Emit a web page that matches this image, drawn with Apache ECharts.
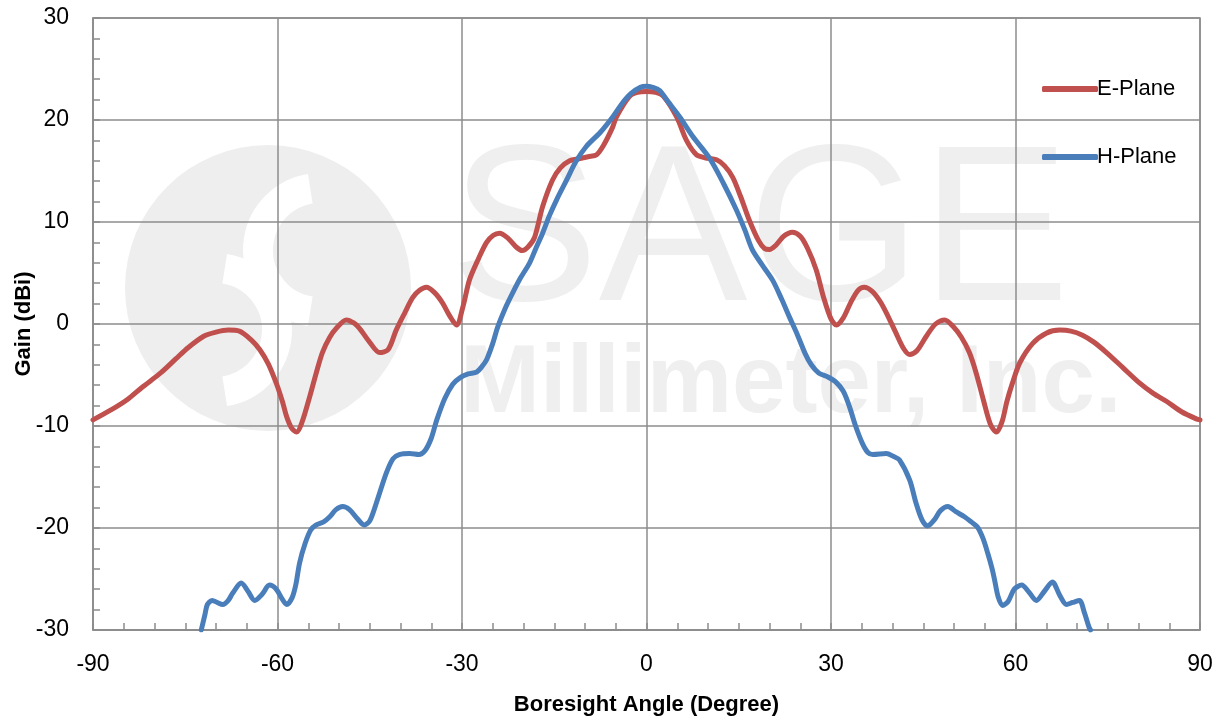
<!DOCTYPE html>
<html>
<head>
<meta charset="utf-8">
<script src="https://cdn.jsdelivr.net/npm/echarts@6/dist/echarts.min.js"></script>
<style>
html,body{margin:0;padding:0;background:#fff;}
#chart{width:1221px;height:721px;}
</style>
</head>
<body>
<div id="chart"></div>
<script>
// E-Plane: [angle (deg), gain (dBi)]
var ePlane = [
[-90,-9.4],[-87,-8.4],[-84.4,-7.4],[-82,-6.2],[-79,-4.8],[-76.5,-3.4],[-74.5,-2.3],[-72,-1.2],[-70,-0.8],[-68,-0.6],
[-66.2,-0.7],[-64.2,-1.6],[-62.9,-2.5],[-61.5,-3.9],[-60.2,-5.8],[-59.2,-7.6],[-58.5,-9.1],[-57.7,-10.2],[-56.9,-10.6],[-56,-9.6],
[-54.8,-7.2],[-53.7,-4.8],[-52.7,-2.8],[-51.5,-1.3],[-50.4,-0.4],[-48.8,0.4],[-47.6,0.1],[-46.7,-0.4],[-45,-1.8],[-43.4,-2.8],
[-42,-2.5],[-40.7,-0.6],[-39.3,1.1],[-38,2.6],[-36.9,3.3],[-35.8,3.6],[-34.5,3.1],[-33.2,2.1],[-32,0.8],[-30.9,-0.1],
[-29.8,1.8],[-28.8,4.3],[-27.4,6.3],[-26,8.0],[-24.9,8.7],[-23.9,8.9],[-22.5,8.4],[-21.1,7.5],[-20.2,7.2],[-19.2,7.6],
[-18.2,8.5],[-16.9,11.5],[-15.3,14.1],[-14,15.3],[-12.5,16.0],[-11,16.2],[-9.5,16.4],[-8.1,16.6],[-7,17.5],[-5.5,19.3],
[-4.9,20.3],[-2.8,22.3],[-1.5,22.7],[0,22.8],
[1.5,22.7],[2.8,22.3],[4.9,20.3],[6.5,18.0],[8.1,16.6],[9.5,16.3],[11.4,16.1],[12.7,15.5],[14,14.4],[15.3,12.5],
[16.7,10.2],[18.2,8.2],[19.2,7.4],[20,7.3],[21,7.7],[22.3,8.6],[23.7,9.0],[25,8.6],[26.2,7.4],[27.6,5.3],
[28.8,2.6],[30,0.5],[30.9,-0.1],[32,0.6],[33.2,2.1],[34.4,3.3],[35.4,3.6],[36.7,3.2],[38,2.2],[39,1.1],
[40.5,-0.8],[41.8,-2.4],[42.8,-3.0],[44,-2.6],[45.5,-1.2],[47,0.0],[48.5,0.4],[49.8,-0.2],[51.2,-1.3],[52.5,-2.8],
[53.6,-4.8],[54.8,-7.5],[55.9,-9.8],[56.9,-10.6],[57.8,-9.6],[58.6,-7.6],[59.5,-5.8],[60.7,-3.8],[62.8,-1.9],[65,-0.9],
[67.2,-0.6],[69,-0.7],[70.9,-1.1],[72.8,-1.8],[74.8,-2.8],[77.5,-4.3],[80.2,-5.8],[82.4,-6.8],[84.6,-7.6],[87,-8.6],
[89.4,-9.3],[90,-9.4]
];
// H-Plane: [angle (deg), gain (dBi)]
var hPlane = [
[-72.4,-30],[-71.8,-28.5],[-71.4,-27.5],[-70.6,-27.1],[-69.8,-27.3],[-68.9,-27.5],[-68,-27.1],[-67.3,-26.4],[-65.9,-25.4],[-64.8,-26.2],
[-63.7,-27.1],[-62.5,-26.5],[-61.3,-25.6],[-60.2,-26.0],[-59.3,-26.9],[-58.5,-27.5],[-57.6,-26.8],[-57,-25.5],[-56.4,-23.4],[-55.5,-21.5],
[-54.6,-20.2],[-53.7,-19.7],[-52.5,-19.4],[-51.5,-18.9],[-50.5,-18.2],[-49.4,-17.9],[-48.3,-18.2],[-47,-19.1],[-45.9,-19.7],[-45,-19.3],
[-43.9,-17.5],[-42.3,-14.6],[-41.2,-13.2],[-40.2,-12.8],[-38.5,-12.7],[-37,-12.8],[-36,-12.4],[-35,-11.2],[-34.1,-9.4],[-32.8,-7.3],
[-31.5,-5.9],[-30.4,-5.3],[-29,-4.9],[-27.6,-4.7],[-26.8,-4.2],[-26,-3.5],[-25,-1.9],[-24.2,-0.3],[-23,1.5],[-21.8,3.0],
[-20.5,4.5],[-19,6.0],[-18,7.4],[-16.9,8.9],[-15.8,10.6],[-14.6,12.2],[-13,14.1],[-11.5,15.9],[-9.8,17.4],[-7.5,18.8],
[-5.5,20.3],[-4,21.6],[-2.5,22.6],[-1,23.2],[0,23.3],
[1,23.2],[2.1,22.9],[3.5,21.8],[5.4,20.3],[7.5,18.4],[10.2,16.3],[12.5,13.8],[14.6,11.2],[16,9.2],[17.2,7.3],
[18.8,5.8],[20.5,4.3],[22,2.4],[23.3,0.6],[24.5,-1.0],[25.8,-2.9],[26.8,-4.0],[28,-4.8],[29.5,-5.2],[30.8,-5.7],
[32,-6.6],[33,-8.1],[34,-10.0],[35.1,-11.7],[36,-12.6],[36.8,-12.8],[39,-12.7],[40.2,-13.0],[41.1,-13.3],[42.8,-15.3],
[43.8,-17.5],[44.8,-19.2],[45.7,-19.8],[46.8,-19.2],[47.8,-18.3],[49,-17.9],[50.3,-18.4],[51.7,-18.9],[52.8,-19.4],[53.8,-19.9],
[54.7,-21.0],[55.5,-22.5],[56.2,-24.0],[56.6,-25.1],[57.2,-26.8],[57.9,-27.6],[58.8,-27.2],[59.8,-26.0],[61,-25.6],[62.2,-26.3],
[63.4,-27.1],[64.7,-26.2],[66,-25.3],[67.2,-26.6],[68.3,-27.5],[69.3,-27.3],[70.4,-27.1],[71.2,-28.3],[72,-29.8],[72.2,-30]
];
var seriesNames = ['E-Plane','H-Plane'];
var xTitle = 'Boresight Angle (Degree)';
var yTitle = 'Gain (dBi)';

var FONT = 'Liberation Sans';
var GRIDC = '#8c8c8c';
var chart = echarts.init(document.getElementById('chart'));
chart.setOption({
  animation:false,
  backgroundColor:'#fff',
  textStyle:{fontFamily:FONT},
  graphic:[
    {type:'circle', z:-10, shape:{cx:268, cy:288, r:143}, style:{fill:'#eeeeee'}},
    {type:'arc', z:-9, shape:{cx:320, cy:250, r:62, startAngle:Math.PI*0.55, endAngle:Math.PI*1.45, clockwise:true},
     style:{stroke:'#ffffff', lineWidth:30, fill:null}},
    {type:'arc', z:-9, shape:{cx:215, cy:330, r:62, startAngle:-Math.PI*0.45, endAngle:Math.PI*0.45, clockwise:true},
     style:{stroke:'#ffffff', lineWidth:30, fill:null}},
    {type:'text', z:-8, left:450, top:127, style:{text:'SAGE', font:'223px "Liberation Sans"', fill:'#efefef'}},
    {type:'text', z:-8, left:460, top:338, style:{text:'Millimeter, Inc.', font:'bold 96px "Liberation Sans"', fill:'#efefef'}}
  ],
  grid:{left:93, right:21, top:18, bottom:91, show:true, borderColor:GRIDC, borderWidth:1.5, backgroundColor:'transparent',
        containLabel:false, outerBoundsMode:'none'},
  legend:{
    orient:'vertical', left:1037, top:73, itemWidth:56, itemHeight:6, itemGap:46, icon:'roundRect',
    textStyle:{fontSize:22, color:'#000', fontFamily:FONT, padding:[0,0,0,-6]},
    data:seriesNames
  },
  xAxis:{
    type:'value', min:-90, max:90, interval:30,
    name:xTitle, nameLocation:'middle', nameGap:64, nameMoveOverlap:false,
    nameTextStyle:{fontSize:22, fontWeight:'bold', color:'#000'},
    axisLine:{show:true, onZero:false, lineStyle:{color:GRIDC, width:1.5}},
    axisTick:{show:true, inside:true, length:7, lineStyle:{color:GRIDC, width:1.5}},
    minorTick:{show:true, splitNumber:6, length:7, lineStyle:{color:GRIDC, width:1.5}},
    axisLabel:{fontSize:23, color:'#000', margin:23},
    splitLine:{show:true, lineStyle:{color:GRIDC, width:1.5}}
  },
  yAxis:{
    type:'value', min:-30, max:30, interval:10,
    name:yTitle, nameLocation:'middle', nameGap:58, nameRotate:90, nameMoveOverlap:false,
    nameTextStyle:{fontSize:22, fontWeight:'bold', color:'#000'},
    axisLine:{show:true, onZero:false, lineStyle:{color:GRIDC, width:1.5}},
    axisTick:{show:true, inside:true, length:7, lineStyle:{color:GRIDC, width:1.5}},
    minorTick:{show:true, splitNumber:5, length:7, lineStyle:{color:GRIDC, width:1.5}},
    axisLabel:{fontSize:23, color:'#000', margin:24},
    splitLine:{show:true, lineStyle:{color:GRIDC, width:1.5}}
  },
  series:[
    {name:seriesNames[0], type:'line', data:ePlane, smooth:0.3, showSymbol:false, clip:true,
     lineStyle:{color:'#C0504D', width:5, cap:'round', join:'round'}, itemStyle:{color:'#C0504D'}},
    {name:seriesNames[1], type:'line', data:hPlane, smooth:0.3, showSymbol:false, clip:true,
     lineStyle:{color:'#4A7EBB', width:5, cap:'round', join:'round'}, itemStyle:{color:'#4A7EBB'}}
  ]
});
</script>
</body>
</html>
